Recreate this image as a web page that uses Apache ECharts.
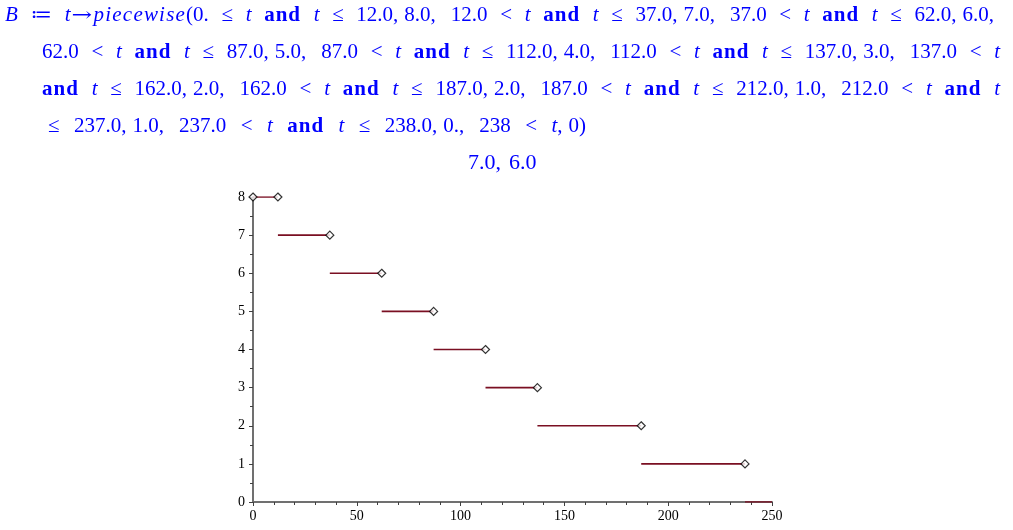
<!DOCTYPE html>
<html>
<head>
<meta charset="utf-8">
<script src="https://cdn.jsdelivr.net/npm/echarts@6/dist/echarts.min.js"></script>
<style>
html,body{margin:0;padding:0;background:#fff;}
#wrap{position:relative;width:1013px;height:530px;overflow:hidden;}
#chart{position:absolute;left:0;top:0;width:1013px;height:530px;}
.ln{position:absolute;white-space:nowrap;font-family:"Liberation Serif","DejaVu Serif",serif;font-size:21px;line-height:21px;color:#0000ff;}
.ln i{font-style:italic;}
.ln b{font-weight:bold;letter-spacing:1px;}
.ln i.pw{letter-spacing:1.2px;}
.ln .c{display:inline-block;width:6px;}
.ln .v{display:inline-block;width:15px;}
.ln .ar{display:inline-block;font-family:"DejaVu Serif",serif;font-size:19px;transform:scaleX(1.3);margin:0 4px 0 3px;}
</style>
</head>
<body>
<div id="wrap">
<div id="chart"></div>
<div class="ln" id="l1" data-right="994" style="left:5px;top:4px;"><i>B</i> &#8788; <i>t</i><span class="ar">&#8594;</span><i class="pw">piecewise</i>(0. &#8804; <i>t</i> <b>and</b> <i>t</i> &#8804; 12.0,<span class="c"></span>8.0,<span class="v"></span>12.0 &lt; <i>t</i> <b>and</b> <i>t</i> &#8804; 37.0,<span class="c"></span>7.0,<span class="v"></span>37.0 &lt; <i>t</i> <b>and</b> <i>t</i> &#8804; 62.0,<span class="c"></span>6.0,</div>
<div class="ln" id="l2" data-right="1000" style="left:42px;top:41px;">62.0 &lt; <i>t</i> <b>and</b> <i>t</i> &#8804; 87.0,<span class="c"></span>5.0,<span class="v"></span>87.0 &lt; <i>t</i> <b>and</b> <i>t</i> &#8804; 112.0,<span class="c"></span>4.0,<span class="v"></span>112.0 &lt; <i>t</i> <b>and</b> <i>t</i> &#8804; 137.0,<span class="c"></span>3.0,<span class="v"></span>137.0 &lt; <i>t</i></div>
<div class="ln" id="l3" data-right="1000" style="left:42px;top:78px;"><b>and</b> <i>t</i> &#8804; 162.0,<span class="c"></span>2.0,<span class="v"></span>162.0 &lt; <i>t</i> <b>and</b> <i>t</i> &#8804; 187.0,<span class="c"></span>2.0,<span class="v"></span>187.0 &lt; <i>t</i> <b>and</b> <i>t</i> &#8804; 212.0,<span class="c"></span>1.0,<span class="v"></span>212.0 &lt; <i>t</i> <b>and</b> <i>t</i></div>
<div class="ln" id="l4" data-right="586" style="left:48px;top:115px;">&#8804; 237.0,<span class="c"></span>1.0,<span class="v"></span>237.0 &lt; <i>t</i> <b>and</b> <i>t</i> &#8804; 238.0,<span class="c"></span>0.,<span class="v"></span>238 &lt; <i>t</i>,<span class="c"></span>0)</div>
<div class="ln" style="left:468px;top:151px;font-size:22px;">7.0,<span class="c" style="width:8px"></span>6.0</div>
</div>
<script>
// stretch the relation spaces of each formula line to Maple's line width
['l1','l2','l3','l4'].forEach(function (id) {
  var el = document.getElementById(id);
  var target = +el.getAttribute('data-right');
  var n = (el.textContent.match(/ /g) || []).length;
  var w = el.getBoundingClientRect().width;
  var left = el.offsetLeft;
  if (n > 0) el.style.wordSpacing = ((target - left - w) / n) + 'px';
});

// segment data
const segStart = [0, 12, 37, 62, 87, 112, 137, 187, 237];
const segEnd   = [12, 37, 62, 87, 112, 137, 187, 237, 250];
const segValue = [8, 7, 6, 5, 4, 3, 2, 1, 0];
// diamond markers (open endpoints)
const markX = [0, 12, 37, 62, 87, 112, 137, 187, 237];
const markY = [8, 8, 7, 6, 5, 4, 3, 2, 1];
const xTicks = [0, 50, 100, 150, 200, 250];
const yTicks = [0, 1, 2, 3, 4, 5, 6, 7, 8];

const lineData = [];
for (let i = 0; i < segStart.length; i++) {
  lineData.push([segStart[i], segValue[i]]);
  lineData.push([segEnd[i], segValue[i]]);
  lineData.push([segEnd[i], '-']);
}
const markData = markX.map((x, i) => [x, markY[i]]);

const chart = echarts.init(document.getElementById('chart'), null, {renderer: 'canvas'});
const axisFont = {fontFamily: 'Liberation Serif', fontSize: 14, color: '#000'};
chart.setOption({
  animation: false,
  grid: {left: 253, right: 241, top: 197, bottom: 28, containLabel: false},
  xAxis: {
    type: 'value', min: xTicks[0], max: xTicks[xTicks.length - 1], interval: 50,
    axisLine: {onZero: false, lineStyle: {color: '#707070', width: 2}},
    axisTick: {length: 4, lineStyle: {color: '#404040', width: 1}},
    minorTick: {show: true, splitNumber: 5, length: 3, lineStyle: {color: '#404040', width: 1}},
    splitLine: {show: false},
    axisLabel: Object.assign({margin: 7}, axisFont)
  },
  yAxis: {
    type: 'value', min: yTicks[0], max: yTicks[yTicks.length - 1], interval: 1,
    axisLine: {show: true, onZero: false, lineStyle: {color: '#707070', width: 2}},
    axisTick: {show: true, length: 4, lineStyle: {color: '#404040', width: 1}},
    minorTick: {show: true, splitNumber: 2, length: 3, lineStyle: {color: '#404040', width: 1}},
    splitLine: {show: false},
    axisLabel: Object.assign({margin: 8}, axisFont)
  },
  series: [
    {
      type: 'line', data: lineData, showSymbol: false, connectNulls: false,
      lineStyle: {color: '#7a0f22', width: 1.6}, z: 3
    },
    {
      type: 'scatter', data: markData, symbol: 'diamond', symbolSize: 8,
      itemStyle: {color: '#fff', borderColor: '#000', borderWidth: 1.2}, z: 4
    }
  ]
});
</script>
</body>
</html>
